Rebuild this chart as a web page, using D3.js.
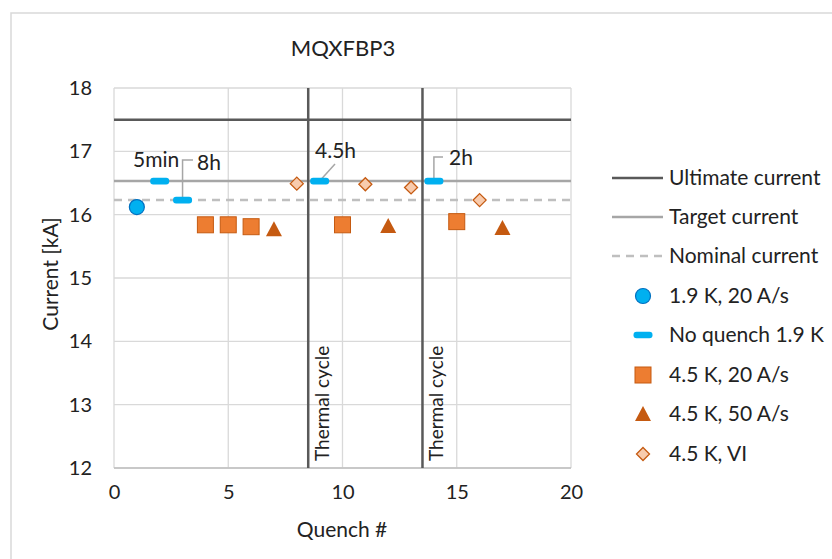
<!DOCTYPE html>
<html><head><meta charset="utf-8">
<script src="https://cdn.jsdelivr.net/npm/d3@7"></script>
<style>body{margin:0;background:#fff}svg{display:block}text{font-family:Lato,"Open Sans",sans-serif;fill:#222}</style>
</head><body><svg id="c" width="832" height="559"></svg>
<script>
const title = "MQXFBP3";
const xTicks = [0,5,10,15,20];
const yTicks = [12,13,14,15,16,17,18];
const ultimate = 17.5, target = 16.53, nominal = 16.23;
const thermalCycles = [8.5, 13.5];
const circleX = [1], circleY = [16.12];
const noQuenchX = [2,3,9,14], noQuenchY = [16.53,16.23,16.53,16.53];
const squareX = [4,5,6,10,15], squareY = [15.84,15.84,15.81,15.84,15.89];
const triX = [7,12,17], triY = [15.77,15.82,15.79];
const diaX = [8,11,13,16], diaY = [16.49,16.48,16.43,16.23];
const annotations = ["5min","8h","4.5h","2h"];
const legendLabels = ["Ultimate current","Target current","Nominal current","1.9 K, 20 A/s","No quench 1.9 K","4.5 K, 20 A/s","4.5 K, 50 A/s","4.5 K, VI"];

const FS = 21;
const svg = d3.select("#c");
const L=114,R=571,T=88,B=468;
const x = d3.scaleLinear().domain([0,20]).range([L,R]);
const y = d3.scaleLinear().domain([12,18]).range([B,T]);

svg.append("rect").attr("x",11).attr("y",13).attr("width",840).attr("height",560).attr("fill","#fff").attr("stroke","#d9d9d9").attr("stroke-width",1.5);
svg.append("text").attr("x",343).attr("y",56).attr("text-anchor","middle").attr("font-size",22).text(title);

const g = svg.append("g");
g.selectAll(".gx").data(xTicks).join("line").attr("x1",d=>x(d)).attr("x2",d=>x(d)).attr("y1",T).attr("y2",B).attr("stroke","#d9d9d9").attr("stroke-width",1.3);
g.selectAll(".gy").data(yTicks).join("line").attr("x1",L).attr("x2",R).attr("y1",d=>y(d)).attr("y2",d=>y(d)).attr("stroke","#d9d9d9").attr("stroke-width",1.3);
g.append("line").attr("x1",L).attr("x2",R).attr("y1",B).attr("y2",B).attr("stroke","#bfbfbf").attr("stroke-width",1.5);

const xa = svg.append("g").attr("transform",`translate(0,${B})`).call(d3.axisBottom(x).tickValues(xTicks).tickFormat(d3.format("d")).tickSize(0).tickPadding(17));
const ya = svg.append("g").attr("transform",`translate(${L},0)`).call(d3.axisLeft(y).tickValues(yTicks).tickFormat(d3.format("d")).tickSize(0).tickPadding(22));
[xa,ya].forEach(a=>{a.attr("font-size",20).attr("font-family","Lato,sans-serif");a.select(".domain").remove();a.selectAll("text").attr("fill","#222");});
svg.append("text").attr("x",342).attr("y",537).attr("text-anchor","middle").attr("font-size",FS).text("Quench #");
svg.append("text").attr("transform","translate(58,274) rotate(-90)").attr("text-anchor","middle").attr("font-size",FS).text("Current [kA]");

const hl = [[ultimate,"#595959",null],[target,"#a6a6a6",null],[nominal,"#bfbfbf","8,6"]];
svg.selectAll(".hl").data(hl).join("line").attr("x1",L).attr("x2",R).attr("y1",d=>y(d[0])).attr("y2",d=>y(d[0])).attr("stroke",d=>d[1]).attr("stroke-width",2.5).attr("stroke-dasharray",d=>d[2]);
svg.selectAll(".tc").data(thermalCycles).join("line").attr("x1",d=>x(d)).attr("x2",d=>x(d)).attr("y1",T).attr("y2",B).attr("stroke","#595959").attr("stroke-width",2.5);
svg.selectAll(".tct").data(thermalCycles).join("text").attr("transform",d=>`translate(${x(d)+21},461) rotate(-90)`).attr("font-size",19).text("Thermal cycle");

const lead = svg.append("g").attr("fill","none").attr("stroke","#a6a6a6").attr("stroke-width",1.5);
lead.append("path").attr("d",`M${x(3)},${y(noQuenchY[1])} V160 H193`);
lead.append("path").attr("d",`M${x(9)},${y(noQuenchY[2])} L335,164`);
lead.append("path").attr("d",`M${x(14)},${y(noQuenchY[3])} V157 H443`);
const ann = [[133,167],[197,170],[315,158],[449,165]];
svg.selectAll(".ann").data(annotations).join("text").attr("x",(d,i)=>ann[i][0]).attr("y",(d,i)=>ann[i][1]).attr("font-size",FS).text(d=>d);

function circ(sel,cx,cy){sel.append("circle").attr("cx",cx).attr("cy",cy).attr("r",7.5).attr("fill","#00b0f0").attr("stroke","#0070c0").attr("stroke-width",1.2);}
function dash(sel,cx,cy){sel.append("rect").attr("x",cx-9.5).attr("y",cy-3.3).attr("width",19).attr("height",6.6).attr("rx",3).attr("fill","#00b0f0");}
function sq(sel,cx,cy){sel.append("rect").attr("x",cx-8).attr("y",cy-8).attr("width",16).attr("height",16).attr("fill","#ed7d31").attr("stroke","#c55a11").attr("stroke-width",1);}
function tri(sel,cx,cy){sel.append("path").attr("d",`M${cx},${cy-8} L${cx+8},${cy+7} L${cx-8},${cy+7}Z`).attr("fill","#c55a11");}
function dia(sel,cx,cy){sel.append("path").attr("d",`M${cx},${cy-6.5} L${cx+6.5},${cy} L${cx},${cy+6.5} L${cx-6.5},${cy}Z`).attr("fill","#f8cbad").attr("stroke","#c55a11").attr("stroke-width",1.3);}
const m = svg.append("g");
circleX.forEach((d,i)=>circ(m,x(d),y(circleY[i])));
noQuenchX.forEach((d,i)=>dash(m,x(d),y(noQuenchY[i])));
squareX.forEach((d,i)=>sq(m,x(d),y(squareY[i])));
triX.forEach((d,i)=>tri(m,x(d),y(triY[i])));
diaX.forEach((d,i)=>dia(m,x(d),y(diaY[i])));

const lg = svg.append("g");
const ly = [178,217,256,296,335,375,414,454];
hl.forEach((h,i)=>lg.append("line").attr("x1",612).attr("x2",663).attr("y1",ly[i]).attr("y2",ly[i]).attr("stroke",h[1]).attr("stroke-width",2.5).attr("stroke-dasharray",h[2]));
circ(lg,643,ly[3]); dash(lg,643,ly[4]); sq(lg,643,ly[5]); tri(lg,643,ly[6]); dia(lg,643,ly[7]);
lg.selectAll("text").data(legendLabels).join("text").attr("x",669).attr("y",(d,i)=>ly[i]+7).attr("font-size",FS).text(d=>d);
</script></body></html>
